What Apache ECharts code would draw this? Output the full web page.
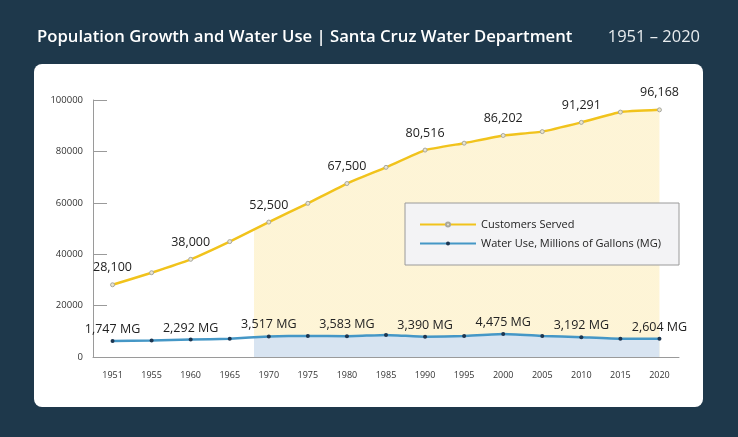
<!DOCTYPE html>
<html>
<head>
<meta charset="utf-8">
<script src="https://cdn.jsdelivr.net/npm/echarts@6/dist/echarts.min.js"></script>
<style>
html,body{margin:0;padding:0;background:#1e384b;}
#chart{width:738px;height:437px;}
</style>
</head>
<body>
<div id="chart"></div>
<script>
const years = ['1951','1955','1960','1965','1970','1975','1980','1985','1990','1995','2000','2005','2010','2015','2020'];
const customers = [28100,32800,38000,44900,52500,59800,67500,73800,80516,83200,86202,87700,91291,95300,96168];
const waterUse = [1747,1900,2292,2600,3517,3700,3583,4100,3390,3700,4475,3700,3192,2600,2604];
const yTicks = {min:0, max:100000, interval:20000};

const FONT = '"Open Sans", sans-serif';
const chart = echarts.init(document.getElementById('chart'), null, {renderer:'canvas'});
const fmt = v => Number(v).toLocaleString('en-US');

chart.setOption({
  backgroundColor:'#1e384b',
  textStyle:{fontFamily:FONT},
  graphic:[{
    type:'rect', z:-10, silent:true,
    shape:{x:34, y:64, width:669, height:343, r:8},
    style:{fill:'#ffffff'}
  }],
  title:[
    {text:'Population Growth and Water Use | Santa Cruz Water Department', left:32, top:24,
     textStyle:{color:'#ffffff', fontSize:16.7, fontWeight:600, fontFamily:FONT}},
    {text:'1951 – 2020', right:33, top:24,
     textStyle:{color:'#e8ecef', fontSize:16.5, fontWeight:'normal', fontFamily:FONT}}
  ],
  legend:{
    orient:'vertical', left:405, top:203,
    padding:[16,18,16,14], itemGap:8, itemWidth:56, itemHeight:5,
    backgroundColor:'#f3f3f5', borderColor:'#9a9a9a', borderWidth:1,
    textStyle:{color:'#222', fontSize:11, fontFamily:FONT},
    data:['Customers Served','Water Use, Millions of Gallons (MG)']
  },
  grid:{left:93, right:59, top:100, bottom:80},
  xAxis:{
    type:'category', data:years, boundaryGap:true,
    axisLine:{lineStyle:{color:'#9a9a9a', width:1}},
    axisTick:{inside:true, length:5, lineStyle:{color:'#9a9a9a'}},
    axisLabel:{color:'#333', fontSize:9, margin:14, fontFamily:FONT},
    splitLine:{show:false}
  },
  yAxis:[{
    type:'value', min:yTicks.min, max:yTicks.max, interval:yTicks.interval,
    axisLine:{show:true, lineStyle:{color:'#9a9a9a', width:1}},
    axisTick:{show:true, inside:true, length:14, lineStyle:{color:'#9a9a9a'}},
    axisLabel:{color:'#333', fontSize:9.5, margin:10, padding:[10,0,0,0], fontFamily:FONT,
      formatter:v => String(v)},
    splitLine:{show:false}
  },{
    type:'value', min:-4500, max:95500, show:false, splitLine:{show:false}
  }],
  series:[{
    name:'Customers Served', type:'line', data:customers, yAxisIndex:0,
    smooth:0.1, symbol:'circle', symbolSize:4,
    lineStyle:{color:'#f1c31c', width:2.5},
    itemStyle:{color:'#e9e4cf', borderColor:'#a8a8a0', borderWidth:1},
    areaStyle:{origin:'start', color:new echarts.graphic.LinearGradient(0,0,1,0,[
      {offset:0,color:'rgba(255,255,255,0)'},{offset:0.259,color:'rgba(255,255,255,0)'},
      {offset:0.259,color:'#fdf0c5'},{offset:1,color:'#fdf0c5'}])},
    label:{show:true, position:'top', distance:8, color:'#222', fontSize:12.5, fontWeight:500, fontFamily:FONT,
      formatter:p => p.dataIndex % 2 === 0 ? fmt(p.value) : ''},
    z:2
  },{
    name:'Water Use, Millions of Gallons (MG)', type:'line', data:waterUse, yAxisIndex:1,
    smooth:0.1, symbol:'circle', symbolSize:4,
    lineStyle:{color:'#4597c6', width:2.5},
    itemStyle:{color:'#1c3550'},
    areaStyle:{origin:'start', opacity:1, color:new echarts.graphic.LinearGradient(0,0,1,0,[
      {offset:0,color:'rgba(255,255,255,0)'},{offset:0.259,color:'rgba(255,255,255,0)'},
      {offset:0.259,color:'#d8e4f1'},{offset:1,color:'#d8e4f1'}])},
    label:{show:true, position:'top', distance:3, color:'#222', fontSize:12.5, fontWeight:500, fontFamily:FONT,
      formatter:p => p.dataIndex % 2 === 0 ? fmt(p.value) + ' MG' : ''},
    z:3
  }]
});
</script>
</body>
</html>
